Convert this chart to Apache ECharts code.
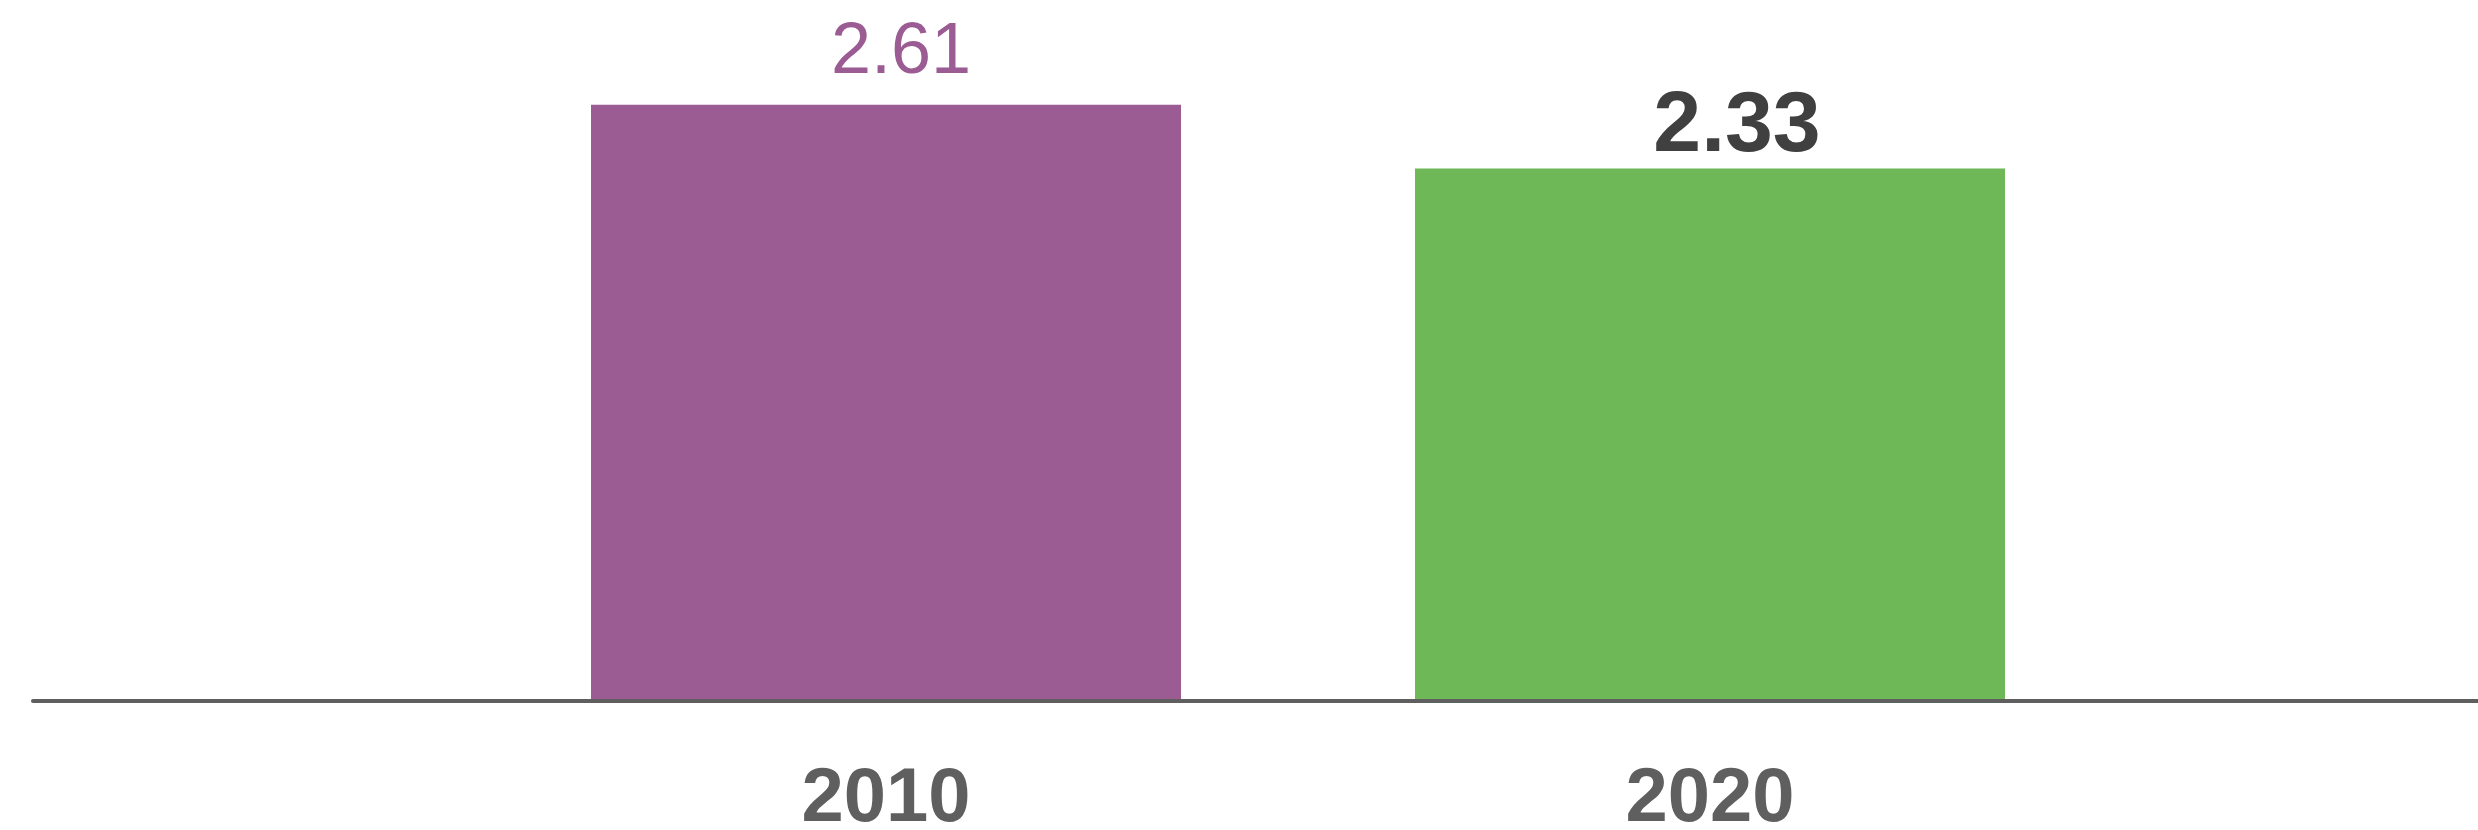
<!DOCTYPE html>
<html>
<head>
<meta charset="utf-8">
<script src="https://cdn.jsdelivr.net/npm/echarts@6/dist/echarts.min.js"></script>
<style>
  html, body { margin: 0; padding: 0; background: #fff; }
  #chart { width: 2478px; height: 830px; }
</style>
</head>
<body>
<div id="chart"></div>
<script>
// 数据
var categories = ['2010', '2020']
var values = [2.61, 2.33]

var barColors = ['#9b5b93', '#6eb858']

var chart = echarts.init(document.getElementById('chart'))

var option = {
  animation: false,
  grid: [
    // 柱子所在区域
    { left: 474, right: 356, top: 16, bottom: 131, containLabel: false, outerBoundsMode: 'none' },
    // 只画横轴线
    { left: 33, right: 0, top: 16, bottom: 129, containLabel: false, outerBoundsMode: 'none' }
  ],
  xAxis: [
    {
      type: 'category',
      gridIndex: 0,
      data: categories,
      axisLine: { show: false },
      axisTick: { show: false },
      axisLabel: {
        margin: 63,
        color: '#5f5f5f',
        fontSize: 76,
        fontWeight: 'bold',
        fontFamily: 'Liberation Sans, Arial, sans-serif'
      }
    },
    {
      type: 'category',
      gridIndex: 1,
      data: categories,
      z: 5,
      axisLine: { show: true, lineStyle: { color: '#5f5f5f', width: 4 } },
      axisTick: { show: false },
      axisLabel: { show: false }
    }
  ],
  yAxis: [
    { type: 'value', gridIndex: 0, min: 0, max: 3, show: false },
    { type: 'value', gridIndex: 1, min: 0, max: 3, show: false }
  ],
  series: [
    {
      type: 'bar',
      xAxisIndex: 0,
      yAxisIndex: 0,
      barWidth: 590,
      data: [
        {
          value: values[0],
          itemStyle: { color: barColors[0] },
          label: {
            show: true,
            position: 'top',
            distance: 16,
            offset: [15, 0],
            color: barColors[0],
            fontSize: 72,
            fontWeight: 'normal',
            fontFamily: 'Liberation Sans, Arial, sans-serif'
          }
        },
        {
          value: values[1],
          itemStyle: { color: barColors[1] },
          label: {
            show: true,
            position: 'top',
            distance: -2,
            offset: [27, 0],
            color: '#404040',
            fontSize: 86,
            fontWeight: 'bold',
            fontFamily: 'Liberation Sans, Arial, sans-serif'
          }
        }
      ]
    }
  ]
}

chart.setOption(option)
</script>
</body>
</html>
